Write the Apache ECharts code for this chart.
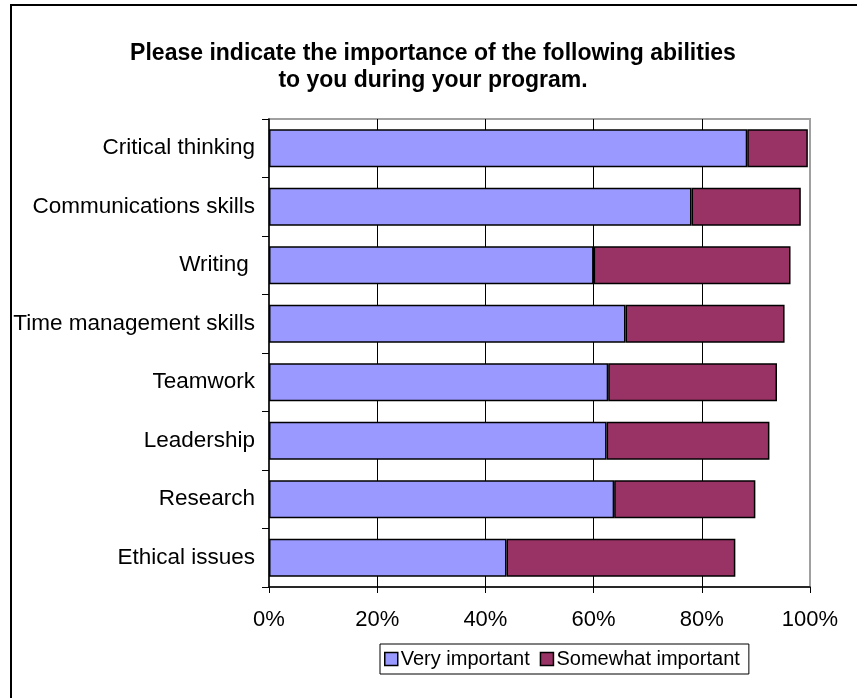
<!DOCTYPE html>
<html>
<head>
<meta charset="utf-8">
<script src="https://cdn.jsdelivr.net/npm/echarts@6/dist/echarts.min.js"></script>
<style>
  html, body { margin: 0; padding: 0; background: #fff; }
  #chart { width: 857px; height: 698px; }
</style>
</head>
<body>
<div id="chart"></div>
<script>
var categories = ['Critical thinking', 'Communications skills', 'Writing ', 'Time management skills',
                  'Teamwork', 'Leadership', 'Research', 'Ethical issues'];
var veryImportant = [88.4, 78.1, 60.0, 65.9, 62.7, 62.4, 63.8, 43.9];
var somewhatImportant = [11.2, 20.2, 36.4, 29.4, 31.2, 30.1, 26.1, 42.3];
var xTicks = [0, 20, 40, 60, 80, 100];

var font = 'Liberation Sans, Arial, sans-serif';

var dom = document.getElementById('chart');
var myChart = echarts.init(dom);

var option = {
    animation: false,
    backgroundColor: '#fff',
    title: {
        text: 'Please indicate the importance of the following abilities\nto you during your program.',
        left: 428,
        textAlign: 'center',
        top: 35,
        textStyle: {
            fontFamily: font,
            fontSize: 23,
            fontWeight: 'bold',
            color: '#000',
            lineHeight: 27
        }
    },
    graphic: [
        {
            // outer frame, runs off the right and bottom edge
            type: 'rect',
            shape: { x: 11, y: 5, width: 900, height: 800 },
            style: { fill: null, stroke: '#000', lineWidth: 2 },
            silent: true
        }
    ],
    legend: {
        data: ['Very important', 'Somewhat important'],
        left: 380,
        top: 644,
        itemWidth: 13,
        itemHeight: 13,
        itemGap: 10,
        padding: [5, 9, 5, 4],
        borderColor: '#000',
        borderWidth: 1,
        icon: 'rect',
        itemStyle: { borderColor: '#000', borderWidth: 1.5 },
        textStyle: { fontFamily: font, fontSize: 20, color: '#000', padding: [0, 0, 0, -2] }
    },
    grid: {
        left: 269,
        right: 47,
        top: 119,
        bottom: 111,
        show: true,
        borderColor: '#a0a0a0',
        borderWidth: 2
    },
    xAxis: {
        type: 'value',
        min: xTicks[0],
        max: xTicks[xTicks.length - 1],
        interval: 20,
        axisLine: { show: true, lineStyle: { color: '#000', width: 1.5 } },
        axisTick: { show: true, length: 6, lineStyle: { color: '#000' } },
        axisLabel: {
            formatter: '{value}%',
            margin: 22,
            fontFamily: font,
            fontSize: 22,
            color: '#000'
        },
        splitLine: {
            show: true,
            lineStyle: { color: ['transparent', '#000', '#000', '#000', '#000', 'transparent'], width: 1 }
        }
    },
    yAxis: {
        type: 'category',
        data: categories,
        inverse: true,
        axisLine: { show: true, lineStyle: { color: '#000', width: 1.5 } },
        axisTick: { show: true, length: 7, lineStyle: { color: '#000' } },
        axisLabel: {
            margin: 14,
            fontFamily: font,
            fontSize: 22.5,
            color: '#000'
        },
        splitLine: { show: false }
    },
    series: [
        {
            name: 'Very important',
            type: 'bar',
            stack: 'total',
            barWidth: 38,
            itemStyle: { color: '#9999ff', borderColor: '#000', borderWidth: 1.5 },
            data: veryImportant
        },
        {
            name: 'Somewhat important',
            type: 'bar',
            stack: 'total',
            barWidth: 38,
            itemStyle: { color: '#993366', borderColor: '#000', borderWidth: 1.5 },
            data: somewhatImportant
        }
    ]
};

myChart.setOption(option);
</script>
</body>
</html>
